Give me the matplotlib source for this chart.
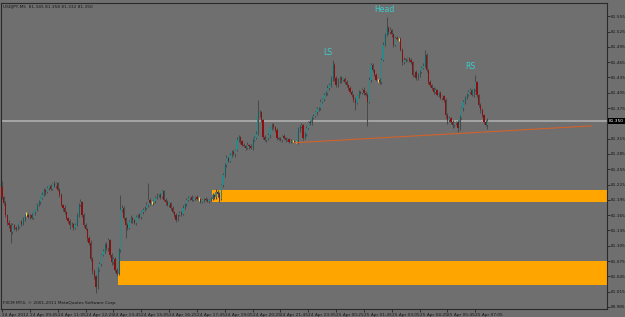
import matplotlib
matplotlib.use("Agg")
import matplotlib.pyplot as plt
import matplotlib.transforms as mtransforms
from matplotlib.patches import Rectangle
import numpy as np

# ---------------- data (USDJPY M5) ----------------
first_open = 81.220
closes = [
    81.200, 81.188, 81.166, 81.150, 81.146, 81.132, 81.146, 81.140, 81.138, 81.142,
    81.152, 81.148, 81.158, 81.166, 81.166, 81.162, 81.165, 81.160, 81.171, 81.176,
    81.185, 81.190, 81.199, 81.205, 81.215, 81.210, 81.218, 81.222, 81.217, 81.226,
    81.223, 81.228, 81.214, 81.205, 81.185, 81.180, 81.171, 81.160, 81.154, 81.146,
    81.148, 81.140, 81.145, 81.166, 81.185, 81.190, 81.166, 81.145, 81.138, 81.121,
    81.111, 81.080, 81.055, 81.045, 81.025, 81.058, 81.070, 81.087, 81.095, 81.107,
    81.100, 81.117, 81.087, 81.073, 81.080, 81.058, 81.050, 81.097, 81.175, 81.179,
    81.160, 81.146, 81.140, 81.152, 81.160, 81.155, 81.150, 81.162, 81.166, 81.162,
    81.171, 81.176, 81.180, 81.185, 81.195, 81.188, 81.188, 81.192, 81.199, 81.203,
    81.205, 81.200, 81.212, 81.195, 81.190, 81.185, 81.188, 81.179, 81.172, 81.166,
    81.156, 81.165, 81.170, 81.168, 81.179, 81.186, 81.195, 81.199, 81.201, 81.195,
    81.198, 81.200, 81.197, 81.197, 81.191, 81.194, 81.196, 81.195, 81.193, 81.195,
    81.197, 81.205, 81.200, 81.211, 81.206, 81.196, 81.224, 81.244, 81.264, 81.277,
    81.272, 81.283, 81.289, 81.285, 81.293, 81.313, 81.318, 81.310, 81.303, 81.300,
    81.297, 81.303, 81.300, 81.297, 81.313, 81.317, 81.325, 81.362, 81.367, 81.352,
    81.318, 81.313, 81.316, 81.322, 81.335, 81.342, 81.338, 81.332, 81.317, 81.315,
    81.313, 81.320, 81.317, 81.312, 81.314, 81.309, 81.311, 81.311, 81.308, 81.308,
    81.332, 81.338, 81.342, 81.317, 81.325, 81.336, 81.348, 81.345, 81.356, 81.360,
    81.367, 81.373, 81.375, 81.387, 81.392, 81.401, 81.405, 81.415, 81.420, 81.432,
    81.460, 81.434, 81.420, 81.428, 81.434, 81.430, 81.432, 81.426, 81.420, 81.415,
    81.407, 81.400, 81.391, 81.385, 81.398, 81.407, 81.405, 81.411, 81.405, 81.401,
    81.387, 81.430, 81.460, 81.450, 81.440, 81.430, 81.430, 81.426, 81.469, 81.499,
    81.518, 81.532, 81.524, 81.528, 81.520, 81.499, 81.513, 81.510, 81.510, 81.489,
    81.465, 81.470, 81.469, 81.473, 81.470, 81.465, 81.440, 81.445, 81.434, 81.440,
    81.446, 81.454, 81.458, 81.479, 81.450, 81.426, 81.420, 81.415, 81.407, 81.410,
    81.401, 81.405, 81.395, 81.398, 81.391, 81.362, 81.352, 81.356, 81.348, 81.342,
    81.345, 81.348, 81.336, 81.356, 81.375, 81.387, 81.395, 81.400, 81.407, 81.411,
    81.401, 81.411, 81.426, 81.401, 81.381, 81.372, 81.362, 81.348, 81.342, 81.350,
]
# upper / lower shadows in points (0.001 JPY)
wick_up = [
    12, 3, 4, 2, 5, 3, 4, 2, 3, 5, 2, 4, 3, 2, 6, 3, 2, 4, 3, 2,
    3, 4, 2, 5, 3, 2, 4, 3, 5, 2, 6, 3, 2, 4, 3, 2, 5, 3, 2, 4,
    3, 2, 5, 4, 3, 6, 2, 3, 4, 2, 3, 5, 2, 4, 3, 6, 3, 2, 4, 3,
    5, 3, 2, 4, 3, 2, 3, 4, 30, 5, 3, 2, 4, 3, 5, 2, 3, 4, 2, 3,
    3, 4, 2, 5, 33, 3, 4, 2, 3, 5, 2, 4, 3, 2, 3, 5, 2, 3, 4, 2,
    3, 2, 4, 3, 5, 2, 3, 4, 2, 3, 3, 2, 4, 3, 2, 3, 2, 4, 3, 2,
    3, 4, 2, 5, 3, 4, 2, 4, 3, 5, 2, 3, 4, 3, 2, 5, 4, 3, 2, 4,
    3, 5, 2, 4, 3, 4, 5, 29, 4, 3, 2, 4, 3, 5, 2, 3, 4, 2, 3, 2,
    3, 2, 4, 2, 3, 2, 3, 2, 2, 2, 5, 3, 4, 2, 3, 4, 2, 3, 4, 3,
    3, 4, 2, 5, 3, 4, 3, 5, 4, 6, 9, 4, 3, 5, 3, 4, 2, 3, 4, 3,
    3, 4, 2, 5, 3, 4, 2, 3, 5, 3, 4, 6, 4, 3, 2, 3, 2, 4, 5, 6,
    5, 22, 4, 5, 3, 2, 4, 3, 2, 4, 3, 5, 4, 3, 2, 4, 3, 2, 4, 3,
    3, 4, 5, 10, 3, 2, 4, 3, 2, 5, 3, 2, 4, 3, 2, 3, 4, 3, 2, 4,
    3, 2, 4, 5, 3, 4, 3, 5, 4, 3, 2, 4, 14, 3, 2, 4, 3, 2, 4, 5,
]
wick_dn = [
    4, 3, 5, 4, 6, 21, 3, 5, 4, 3, 2, 4, 3, 5, 2, 3, 4, 2, 3, 5,
    2, 3, 4, 2, 3, 5, 2, 4, 3, 2, 3, 4, 2, 5, 3, 6, 4, 3, 5, 8,
    4, 5, 3, 2, 4, 3, 5, 4, 3, 6, 5, 4, 6, 5, 12, 4, 3, 5, 3, 4,
    3, 5, 4, 6, 3, 5, 4, 3, 4, 3, 5, 25, 4, 3, 2, 5, 3, 4, 3, 2,
    4, 3, 2, 3, 4, 3, 2, 4, 3, 2, 3, 4, 2, 3, 5, 2, 4, 3, 2, 5,
    4, 3, 2, 4, 3, 2, 3, 2, 4, 3, 2, 3, 2, 4, 3, 2, 3, 2, 3, 4,
    3, 2, 4, 3, 5, 6, 2, 3, 5, 4, 3, 2, 4, 3, 6, 3, 4, 5, 3, 2,
    4, 3, 5, 2, 4, 3, 2, 3, 4, 5, 3, 2, 4, 3, 5, 3, 4, 3, 5, 2,
    3, 4, 2, 3, 2, 3, 2, 2, 2, 2, 4, 3, 2, 5, 3, 4, 2, 3, 4, 3,
    3, 5, 4, 3, 2, 4, 3, 5, 4, 3, 4, 5, 3, 4, 3, 5, 2, 3, 4, 5,
    3, 4, 5, 14, 3, 4, 3, 2, 4, 3, 48, 3, 4, 5, 3, 2, 3, 4, 3, 2,
    3, 2, 4, 3, 5, 4, 3, 2, 4, 3, 5, 4, 3, 2, 4, 3, 5, 3, 4, 3,
    4, 3, 2, 3, 5, 4, 3, 4, 5, 3, 2, 4, 3, 5, 4, 6, 8, 5, 4, 6,
    5, 4, 7, 4, 3, 5, 4, 3, 2, 4, 3, 4, 3, 5, 4, 6, 5, 4, 3, 8,
]
time_labels = [
    "24 Apr 2012", "24 Apr 09:45", "24 Apr 11:05", "24 Apr 12:25", "24 Apr 13:45",
    "24 Apr 15:05", "24 Apr 16:25", "24 Apr 17:45", "24 Apr 19:05", "24 Apr 20:25",
    "24 Apr 21:45", "24 Apr 23:05", "25 Apr 00:25", "25 Apr 01:45", "25 Apr 03:05",
    "25 Apr 04:25", "25 Apr 05:45", "25 Apr 07:05",
]
time_label_bars = [0, 16, 32, 48, 64, 80, 96, 112, 128, 144, 160, 176, 192, 208, 224, 240, 256, 272]
price_ticks = [80.985, 81.015, 81.045, 81.075, 81.105, 81.135, 81.165, 81.195, 81.225, 81.255,
               81.285, 81.315, 81.375, 81.405, 81.435, 81.465, 81.495, 81.525, 81.555]
bid_price = 81.350
header = "USDJPY,M5  81.345 81.358 81.332 81.350"
footer = "FXCM MT4, \u00a9 2001-2011 MetaQuotes Software Corp."

pattern_names = ["LS", "Head", "RS"]
pattern_bars = [187, 220, 269]
pattern_prices = [81.484, 81.568, 81.457]

zone_upper = [81.191, 81.214]
zone_upper_start = 120.5
zone_lower = [81.028, 81.075]
zone_lower_start = 66.5
trend_bars = [168, 339]
trend_prices = [81.307, 81.340]

# ---------------- styling ----------------
bg = "#6f6f6f"
bull_col = "#2a8a8a"
bear_col = "#8c1010"
wick_col = "#4a4a4a"
doji_col = "#e8e050"
zone_col = "#ffa500"
label_col = "#3ccaca"
text_col = "#151515"
small = 3.1

W, H = 625, 317
fig = plt.figure(figsize=(W / 100, H / 100), dpi=100, facecolor=bg)
ax = fig.add_axes([1 / W, 8 / H, 606 / W, 306 / H])
ax.set_facecolor(bg)

closes_a = np.array(closes)
opens_a = np.array([first_open] + closes[:-1])
n = len(closes_a)
xs = np.arange(n)
top = np.maximum(opens_a, closes_a)
bot = np.minimum(opens_a, closes_a)
highs = top + np.array(wick_up) * 0.001
lows = bot - np.array(wick_dn) * 0.001
doji = np.abs(closes_a - opens_a) < 0.0005

ax.set_xlim(-0.57, 347.7)
ax.set_ylim(80.981, 81.581)

# zones
x_right = ax.get_xlim()[1]
ax.add_patch(Rectangle((zone_upper_start, zone_upper[0]), x_right - zone_upper_start,
                       zone_upper[1] - zone_upper[0], facecolor=zone_col, edgecolor="none", zorder=1))
ax.add_patch(Rectangle((zone_lower_start, zone_lower[0]), x_right - zone_lower_start,
                       zone_lower[1] - zone_lower[0], facecolor=zone_col, edgecolor="none", zorder=1))

# bid line
ax.axhline(bid_price, color="#a9a9a9", lw=1.3, zorder=2)

# candles
wcols = [doji_col if d else wick_col for d in doji]
ax.vlines(xs, lows, highs, colors=wcols, lw=0.75, zorder=3)
body_cols = [bull_col if c > o else bear_col for o, c in zip(opens_a, closes_a)]
body_h = np.where(doji, 0.0, np.maximum(top - bot, 0.0015))
mask = ~doji
ax.bar(xs[mask], body_h[mask], bottom=bot[mask], width=0.72,
       color=[c for c, m in zip(body_cols, mask) if m], linewidth=0, zorder=4)

# trend line
ax.plot(trend_bars, trend_prices, color="#d2622a", lw=0.8, zorder=5)

# pattern labels
for name, b, p in zip(pattern_names, pattern_bars, pattern_prices):
    ax.text(b, p, name, color=label_col, fontsize=5.6, ha="center", va="center", zorder=6)

# axes styling
for s in ax.spines.values():
    s.set_color("#2a2a2a")
    s.set_linewidth(0.8)
ax.yaxis.tick_right()
ax.set_yticks(price_ticks)
ax.set_yticklabels([f"{p:.3f}" for p in price_ticks])
ax.set_xticks(time_label_bars)
ax.set_xticklabels(time_labels, ha="left")
ax.tick_params(axis="both", labelsize=small, colors=text_col, length=2, width=0.5, pad=0.8)

# current price box
trans = mtransforms.blended_transform_factory(ax.transAxes, ax.transData)
ax.text(1.003, bid_price, f"{bid_price:.3f}", transform=trans, fontsize=small, color="white",
        ha="left", va="center", zorder=7,
        bbox=dict(facecolor="black", edgecolor="none", pad=0.8))

ax.text(0.004, 0.992, header, transform=ax.transAxes, fontsize=small, color=text_col, ha="left", va="top")
ax.text(0.004, 0.012, footer, transform=ax.transAxes, fontsize=small, color=text_col, ha="left", va="bottom")

fig.savefig("out.png", dpi=100, facecolor=bg)
